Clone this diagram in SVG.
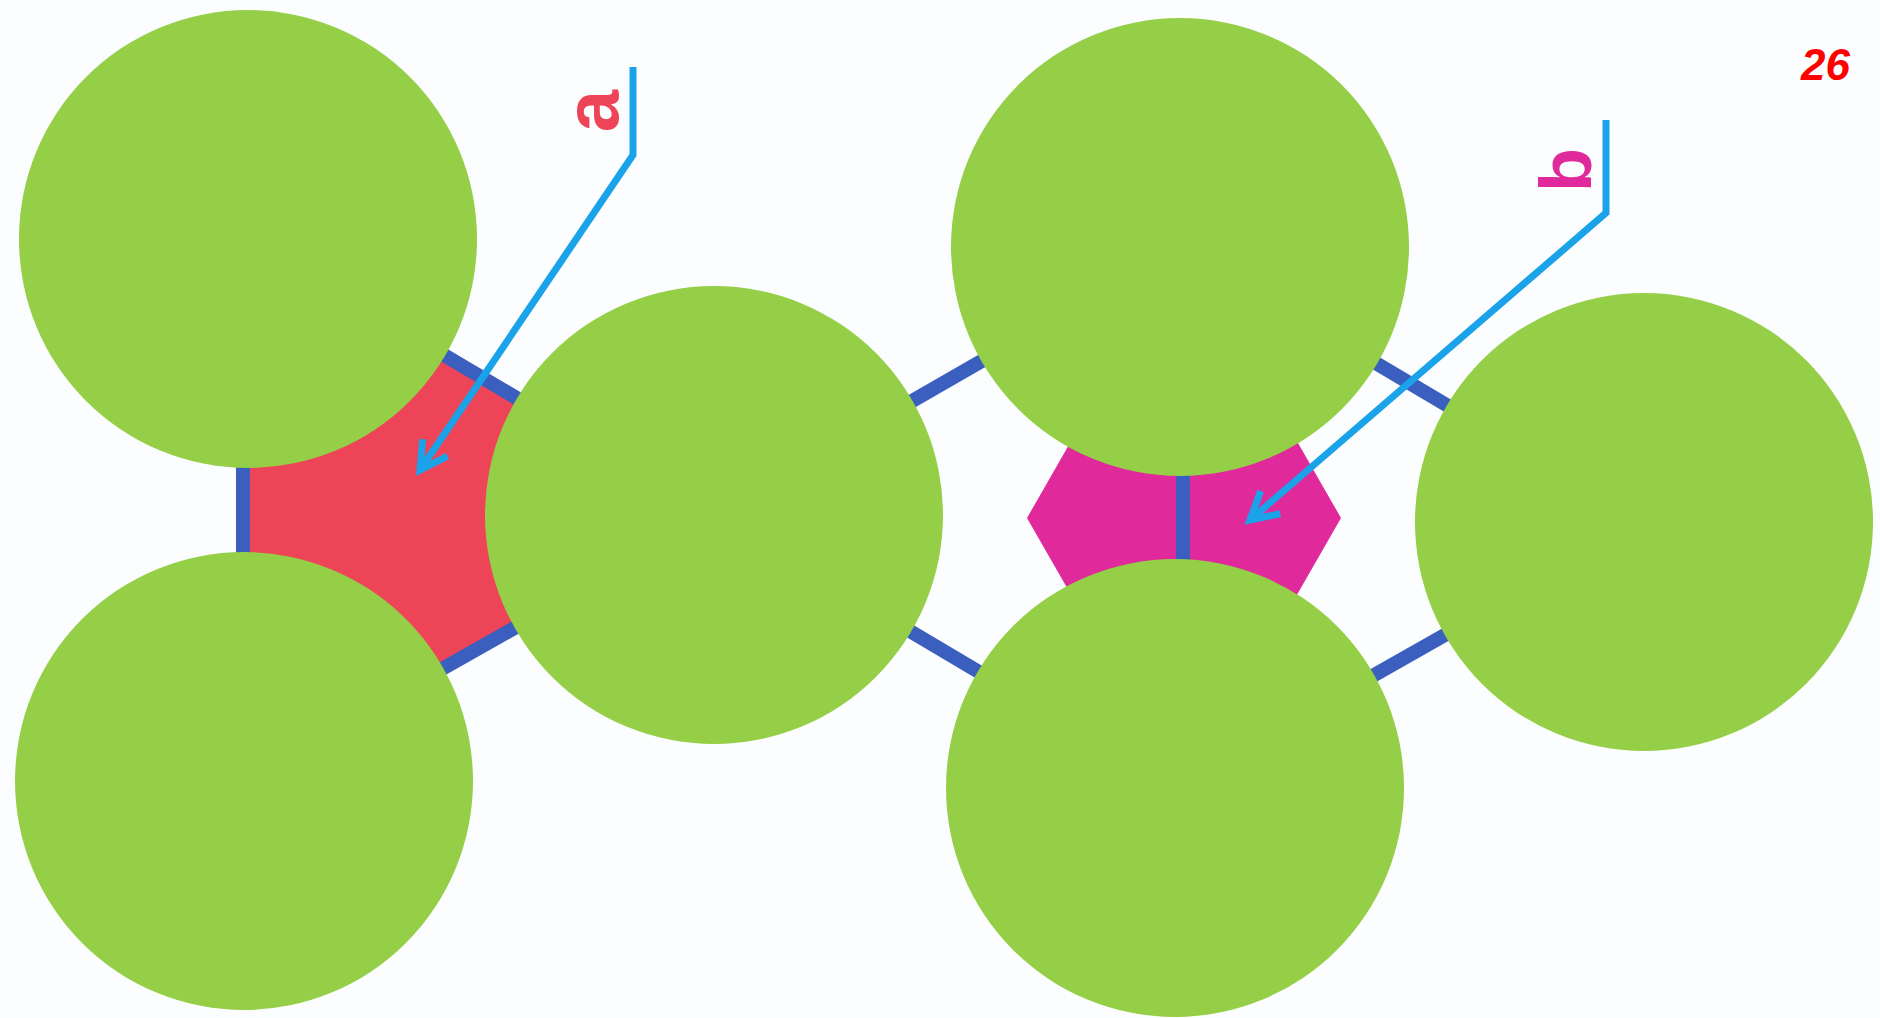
<svg xmlns="http://www.w3.org/2000/svg" width="1880" height="1018" viewBox="0 0 1880 1018">
  <style>
    .ball { fill: #94cf47; }
    .bond { stroke: #3b5fbf; stroke-width: 14; fill: none; }
    .ptr { stroke: #1ba3ea; stroke-width: 7; fill: none; stroke-linejoin: miter; }
    .lbl { font-family: "Liberation Sans", Arial, sans-serif; font-weight: bold; }
  </style>
  <defs>
    <marker id="ah" markerUnits="userSpaceOnUse" markerWidth="50" markerHeight="50" viewBox="-40 -25 50 50" refX="0" refY="0" orient="auto">
      <path d="M-27,-15 L0,0 L-27,15" fill="none" stroke="#1ba3ea" stroke-width="7" stroke-linejoin="miter"/>
    </marker>
  </defs>
  <rect width="1880" height="1018" fill="#fcfdff"/>

  <g id="void-a">
    <polygon points="248,239 244,781 714,515" fill="#ee4457"/>
  </g>
  <g id="void-b">
    <polygon points="1027,518 1105,382 1263,382 1341,518 1263,654 1105,654" fill="#e0299b"/>
  </g>

  <g id="connectors">
    <line class="bond" x1="243" y1="239" x2="243" y2="781"/>
    <line class="bond" x1="248" y1="239" x2="714" y2="515"/>
    <line class="bond" x1="244" y1="781" x2="714" y2="515"/>
    <line class="bond" x1="714" y1="515" x2="1180" y2="247"/>
    <line class="bond" x1="714" y1="515" x2="1175" y2="788"/>
    <line class="bond" x1="1183" y1="247" x2="1183" y2="788"/>
    <line class="bond" x1="1180" y1="247" x2="1644" y2="522"/>
    <line class="bond" x1="1175" y1="788" x2="1644" y2="522"/>
  </g>

  <g id="sphere-1"><circle class="ball" cx="248" cy="239" r="229"/></g>
  <g id="sphere-2"><circle class="ball" cx="244" cy="781" r="229"/></g>
  <g id="sphere-3"><circle class="ball" cx="714" cy="515" r="229"/></g>
  <g id="sphere-4"><circle class="ball" cx="1180" cy="247" r="229"/></g>
  <g id="sphere-5"><circle class="ball" cx="1175" cy="788" r="229"/></g>
  <g id="sphere-6"><circle class="ball" cx="1644" cy="522" r="229"/></g>

  <g id="pointers">
    <path class="ptr" d="M633,67 L633,155 L420,470" marker-end="url(#ah)"/>
    <path class="ptr" d="M1606,120 L1606,213 L1250,520" marker-end="url(#ah)"/>
  </g>

  <g id="label-a">
    <text class="lbl" transform="translate(618,111) rotate(-90)" text-anchor="middle" font-size="76" fill="#ee4457">a</text>
  </g>
  <g id="label-b">
    <text class="lbl" transform="translate(1591,170) rotate(-90)" text-anchor="middle" font-size="72" fill="#e0299b">b</text>
  </g>
  <g id="page-number">
    <text class="lbl" x="1801" y="80" font-size="44" font-style="italic" fill="#ff0000">26</text>
  </g>
</svg>
